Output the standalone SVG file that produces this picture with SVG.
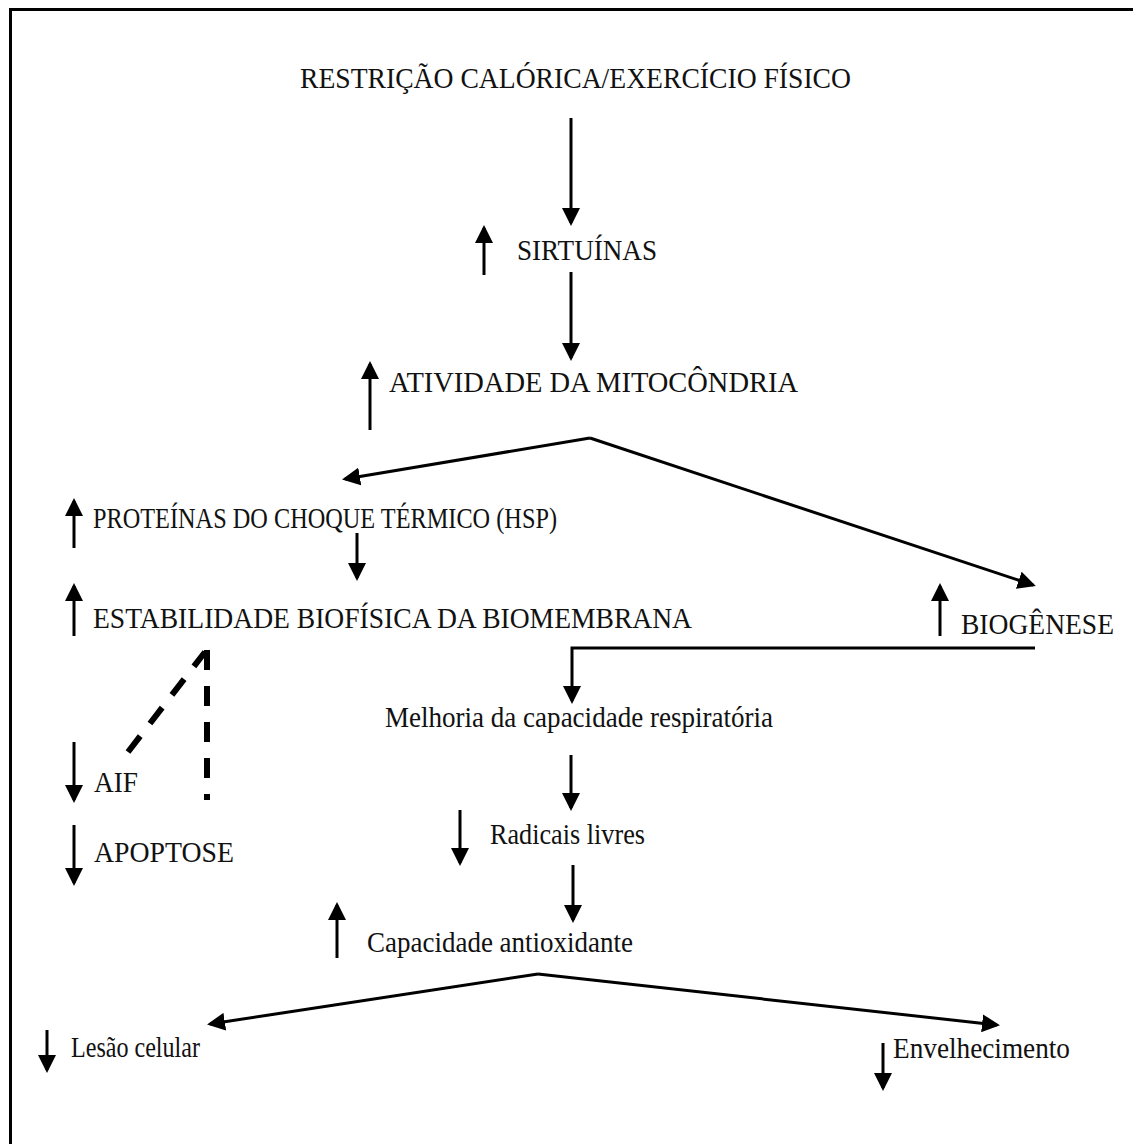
<svg xmlns="http://www.w3.org/2000/svg" width="1133" height="1144" viewBox="0 0 1133 1144">
<defs>
<marker id="ah" markerWidth="6" markerHeight="6" refX="5" refY="3" orient="auto" markerUnits="strokeWidth" viewBox="0 0 6 6">
<path d="M0,0 L6,3 L0,6 Z" fill="#000"/>
</marker>
<style>
text{font-family:"Liberation Serif","Times New Roman",serif;font-size:30px;fill:#111}
.a{stroke:#000;stroke-width:3;fill:none;marker-end:url(#ah)}
.d{stroke:#000;stroke-width:6;fill:none;stroke-dasharray:20 16}
</style>
</defs>
<rect width="1133" height="1144" fill="#fff"/>
<path d="M10.5,1144 V9.5 H1133" fill="none" stroke="#000" stroke-width="3"/>

<g id="n-restricao"><text x="300" y="88" textLength="551" lengthAdjust="spacingAndGlyphs">RESTRIÇÃO CALÓRICA/EXERCÍCIO FÍSICO</text></g>
<g id="n-sirtuinas"><path class="a" d="M484,275 V228"/><text x="517" y="260" textLength="140" lengthAdjust="spacingAndGlyphs">SIRTUÍNAS</text></g>
<g id="n-atividade"><path class="a" d="M370,430 V364"/><text x="389" y="392" textLength="409" lengthAdjust="spacingAndGlyphs">ATIVIDADE DA MITOCÔNDRIA</text></g>
<g id="n-hsp"><path class="a" d="M74,548 V501"/><text x="93" y="528" textLength="464" lengthAdjust="spacingAndGlyphs">PROTEÍNAS DO CHOQUE TÉRMICO (HSP)</text></g>
<g id="n-estabilidade"><path class="a" d="M74,636 V586"/><text x="93" y="628" textLength="599" lengthAdjust="spacingAndGlyphs">ESTABILIDADE BIOFÍSICA DA BIOMEMBRANA</text></g>
<g id="n-biogenese"><path class="a" d="M940,636 V586"/><text x="961" y="634" textLength="153" lengthAdjust="spacingAndGlyphs">BIOGÊNESE</text></g>
<g id="n-melhoria"><text x="385" y="727" textLength="388" lengthAdjust="spacingAndGlyphs">Melhoria da capacidade respiratória</text></g>
<g id="n-aif"><path class="a" d="M74,742 V800"/><text x="94" y="792" textLength="44" lengthAdjust="spacingAndGlyphs">AIF</text></g>
<g id="n-apoptose"><path class="a" d="M74,825 V883"/><text x="94" y="862" textLength="140" lengthAdjust="spacingAndGlyphs">APOPTOSE</text></g>
<g id="n-radicais"><path class="a" d="M460,810 V863"/><text x="490" y="844" textLength="155" lengthAdjust="spacingAndGlyphs">Radicais livres</text></g>
<g id="n-capacidade"><path class="a" d="M337,958 V905"/><text x="367" y="952" textLength="266" lengthAdjust="spacingAndGlyphs">Capacidade antioxidante</text></g>
<g id="n-lesao"><path class="a" d="M47,1030 V1070"/><text x="71" y="1057" textLength="129" lengthAdjust="spacingAndGlyphs">Lesão celular</text></g>
<g id="n-envelhecimento"><path class="a" d="M883,1043 V1088"/><text x="893" y="1058" textLength="177" lengthAdjust="spacingAndGlyphs">Envelhecimento</text></g>

<g id="connectors">
<path class="a" d="M571,118 V223"/>
<path class="a" d="M571,272 V358"/>
<path class="a" d="M590,438 L345,479"/>
<path class="a" d="M590,438 L1033,585"/>
<path class="a" d="M357,533 V578"/>
<path class="a" d="M1035,648 H572 V701"/>
<path class="a" d="M571,755 V808"/>
<path class="a" d="M573,865 V920"/>
<path class="a" d="M538,974 L210,1024"/>
<path class="a" d="M538,974 L997,1025"/>
<path class="d" d="M207,650 V800"/>
<path class="d" d="M128,752 L205,652"/>
</g>
</svg>
